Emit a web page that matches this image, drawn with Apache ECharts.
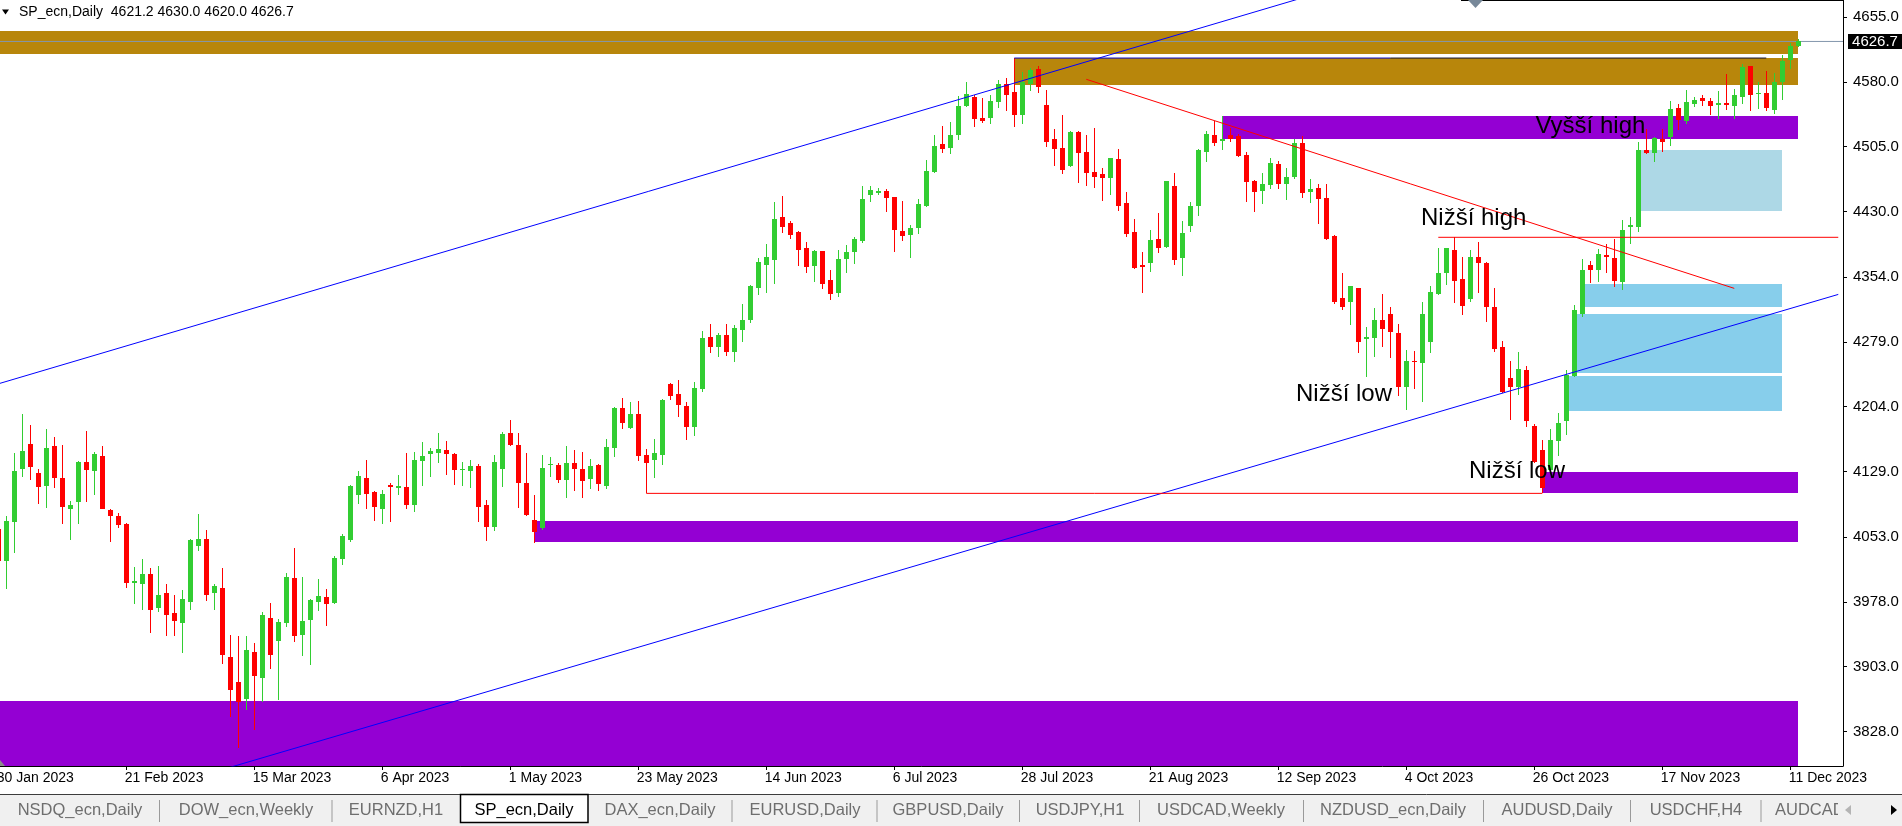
<!DOCTYPE html>
<html><head><meta charset="utf-8">
<script src="https://cdn.jsdelivr.net/npm/echarts@6/dist/echarts.min.js"></script>
<style>html,body{margin:0;padding:0;background:#fff;overflow:hidden}#c{width:1902px;height:826px}</style>
</head><body><div id="c"></div>
<script>
// ---------------- DATA ----------------
const firstDay = '2023-01-30';
const closedDays = ['2023-04-07'];
// daily candles [open, high, low, close], one per trading day from 30 Jan 2023
const ohlc = [
[4062.3,4070.0,4015.0,4025.3],[4025.3,4077.4,3992.8,4071.6],[4070.8,4150.3,4034.5,4129.5],[4131.8,4195.8,4122.5,4152.6],
[4160.7,4182.7,4119.4,4134.1],[4127.1,4131.8,4091.2,4110.9],[4112.1,4178.1,4086.6,4156.1],[4158.4,4168.8,4109.8,4121.3],
[4121.3,4159.6,4068.1,4087.8],[4085.5,4094.7,4049.6,4090.1],[4093.6,4141.0,4068.1,4139.9],[4139.9,4175.8,4093.6,4130.6],
[4129.5,4151.4,4101.7,4149.1],[4146.8,4158.4,4085.5,4085.5],[4084.3,4085.5,4047.3,4077.4],[4077.4,4080.8,4063.5,4066.9],
[4068.1,4069.3,3994.0,3999.8],[3999.8,4018.3,3975.5,4002.1],[3998.9,4027.6,3968.5,4010.2],[4010.2,4017.2,3941.9,3968.5],
[3970.8,4019.5,3966.2,3985.9],[3988.2,3998.6,3938.4,3962.7],[3965.0,3985.9,3938.4,3955.8],[3953.5,3991.7,3918.7,3981.3],
[3977.8,4050.5,3968.5,4049.6],[4042.6,4079.7,4036.8,4050.7],[4050.7,4061.1,3979.0,3985.9],[3988.2,3998.9,3968.5,3996.3],
[3994.0,4017.2,3906.0,3916.4],[3914.1,3939.6,3844.7,3875.9],[3885.2,3938.4,3808.8,3862.0],[3865.5,3938.4,3852.8,3922.2],
[3919.9,3930.3,3829.6,3892.1],[3889.8,3966.2,3862.0,3962.7],[3959.3,3976.6,3900.2,3916.4],[3932.6,3958.1,3864.3,3954.6],
[3953.5,4011.4,3948.8,4006.7],[4005.6,4040.3,3931.5,3938.4],[3939.6,4006.7,3915.3,3955.8],[3957.0,3981.3,3904.9,3980.1],
[3977.8,4004.4,3967.4,3984.7],[3983.6,3992.8,3950.0,3975.5],[3976.6,4031.0,3975.5,4028.7],[4027.6,4056.5,4020.6,4054.2],
[4049.6,4113.2,4047.3,4112.5],[4101.7,4129.4,4091.2,4123.7],[4121.3,4142.2,4085.5,4102.8],[4105.1,4106.3,4071.6,4087.8],
[4085.5,4107.4,4068.1,4102.8],[4113.2,4115.5,4070.4,4110.9],[4110.0,4124.8,4101.7,4112.1],[4110.9,4150.3,4085.5,4090.1],
[4090.1,4151.4,4082.0,4142.2],[4141.0,4163.0,4112.1,4146.8],[4149.1,4156.1,4122.5,4152.6],[4150.3,4173.4,4138.7,4154.9],
[4153.7,4164.2,4124.8,4149.1],[4149.1,4150.3,4113.2,4130.6],[4130.6,4139.9,4112.1,4131.8],[4129.4,4142.2,4109.8,4135.2],
[4135.2,4137.5,4070.4,4087.8],[4090.1,4095.9,4048.4,4064.6],[4064.6,4148.0,4060.0,4139.9],[4131.8,4174.6,4110.9,4172.3],
[4173.4,4188.5,4159.0,4159.5],[4159.5,4173.4,4086.6,4115.5],[4115.5,4150.3,4077.4,4078.5],[4072.7,4101.7,4046.1,4058.8],
[4063.5,4148.0,4061.1,4132.9],[4136.4,4145.6,4122.5,4137.5],[4136.4,4138.7,4115.5,4119.0],[4119.0,4158.4,4098.2,4138.7],
[4138.7,4153.7,4106.3,4131.8],[4131.8,4151.4,4098.2,4117.9],[4120.2,4143.3,4108.6,4135.2],[4136.4,4137.5,4106.3,4114.4],
[4112.1,4166.5,4108.6,4157.2],[4156.1,4203.5,4145.6,4202.4],[4202.3,4213.9,4178.0,4185.0],[4179.2,4209.3,4178.0,4195.4],
[4195.4,4210.4,4141.0,4146.8],[4147.9,4154.9,4103.6,4138.7],[4142.1,4166.4,4121.3,4150.2],[4147.9,4212.8,4136.3,4211.6],
[4230.1,4231.3,4211.6,4216.2],[4218.5,4234.7,4191.9,4205.8],[4204.6,4209.3,4165.3,4180.3],[4180.3,4232.4,4169.9,4225.5],
[4224.3,4291.5,4220.8,4283.4],[4284.5,4299.6,4266.0,4272.9],[4272.9,4289.2,4261.4,4286.8],[4286.8,4299.6,4262.5,4267.2],
[4267.2,4298.4,4255.6,4294.9],[4292.6,4322.7,4278.7,4304.2],[4304.2,4344.7,4300.7,4343.6],[4341.2,4376.0,4333.1,4371.3],
[4367.9,4392.2,4335.5,4377.1],[4373.7,4440.8,4345.9,4421.1],[4423.4,4447.8,4404.9,4411.9],[4416.5,4418.8,4398.0,4402.6],
[4406.1,4407.2,4366.7,4385.2],[4387.5,4394.5,4358.6,4365.6],[4366.7,4385.2,4348.2,4384.1],[4384.1,4384.1,4340.1,4345.9],
[4350.5,4362.1,4327.4,4334.3],[4335.5,4385.2,4330.8,4374.8],[4374.8,4391.0,4358.6,4382.9],[4382.9,4400.3,4369.0,4398.0],
[4395.7,4459.3,4393.3,4444.3],[4448.9,4459.3,4440.8,4454.7],[4451.2,4457.0,4448.9,4453.5],[4453.5,4455.8,4429.2,4445.4],
[4446.6,4446.6,4382.9,4408.4],[4407.2,4442.0,4395.7,4401.4],[4402.6,4414.2,4376.0,4410.7],[4410.7,4444.3,4403.8,4438.5],
[4436.2,4489.5,4435.0,4476.7],[4475.5,4518.4,4474.4,4505.6],[4507.9,4528.8,4497.5,4502.2],[4503.3,4533.4,4496.4,4518.4],
[4518.4,4563.5,4512.6,4551.9],[4551.9,4579.7,4550.5,4565.8],[4562.4,4564.7,4527.6,4536.9],[4538.1,4561.2,4532.3,4534.6],
[4538.1,4564.7,4531.1,4557.7],[4556.6,4582.0,4549.6,4577.4],[4577.4,4584.4,4546.2,4564.7],[4568.2,4607.5,4527.6,4541.5],
[4541.5,4591.3,4531.1,4579.7],[4577.4,4596.0,4569.3,4593.6],[4594.8,4598.3,4567.0,4573.9],[4553.1,4570.5,4504.5,4510.3],
[4513.7,4525.3,4482.5,4502.2],[4503.3,4541.5,4473.2,4477.9],[4482.5,4523.0,4481.5,4521.8],[4521.8,4523.0,4462.8,4497.5],
[4498.7,4518.4,4459.3,4474.4],[4475.5,4526.5,4457.0,4469.7],[4473.2,4480.2,4442.0,4468.6],[4468.6,4491.7,4448.9,4491.7],
[4490.6,4502.2,4430.4,4436.2],[4439.7,4452.4,4400.3,4403.8],[4406.1,4421.1,4363.2,4364.4],[4367.9,4382.9,4335.5,4365.6],
[4370.2,4408.4,4359.8,4396.8],[4398.0,4428.1,4381.8,4387.5],[4388.7,4465.1,4387.5,4465.1],[4459.3,4474.4,4367.9,4373.7],
[4376.0,4418.8,4355.1,4404.9],[4413.0,4440.8,4406.1,4436.2],[4436.2,4502.2,4424.6,4501.0],[4498.7,4523.0,4487.1,4519.5],
[4518.4,4534.6,4505.6,4509.1],[4511.4,4540.4,4501.0,4513.7],[4518.4,4526.5,4510.3,4513.7],[4517.2,4519.5,4492.9,4494.1],
[4495.2,4498.7,4440.8,4464.0],[4465.1,4466.3,4429.2,4452.4],[4453.5,4474.4,4438.5,4461.6],[4460.5,4491.7,4455.8,4485.9],
[4484.8,4488.3,4455.8,4461.6],[4461.6,4480.2,4443.1,4469.7],[4469.7,4513.7,4467.4,4509.1],[4509.1,4517.2,4445.4,4451.2],
[4452.4,4467.4,4439.6,4455.8],[4457.0,4461.6,4415.3,4444.3],[4445.4,4461.6,4396.8,4398.0],[4401.4,4402.6,4322.7,4325.0],
[4329.6,4358.6,4315.8,4319.2],[4325.0,4343.6,4298.4,4343.6],[4341.2,4341.2,4266.0,4278.7],[4282.2,4296.1,4238.2,4284.5],
[4283.3,4318.1,4261.4,4304.2],[4304.2,4334.3,4272.9,4293.8],[4311.1,4319.2,4260.2,4290.3],[4289.1,4299.6,4216.2,4226.6],
[4226.6,4269.5,4200.0,4256.7],[4256.7,4268.3,4224.3,4255.6],[4254.4,4325.0,4209.3,4311.1],[4278.7,4343.6,4266.0,4336.6],
[4334.3,4387.5,4333.1,4358.6],[4358.6,4387.5,4344.7,4387.5],[4385.2,4399.9,4323.9,4349.3],[4351.7,4377.1,4310.0,4320.4],
[4328.5,4385.2,4325.0,4377.1],[4377.1,4394.5,4335.5,4370.2],[4370.2,4371.3,4301.9,4319.2],[4319.2,4341.2,4267.1,4270.6],
[4272.9,4279.9,4219.7,4220.8],[4237.0,4256.7,4188.4,4226.6],[4226.6,4267.1,4217.4,4247.5],[4246.7,4251.4,4180.8,4187.7],
[4181.5,4183.8,4138.3,4139.4],[4153.7,4165.3,4103.6,4109.3],[4130.6,4178.0,4128.6,4165.3],[4164.5,4196.2,4146.8,4185.3],
[4187.7,4246.3,4171.1,4240.5],[4239.4,4321.6,4238.2,4315.8],[4311.2,4374.9,4307.7,4362.1],[4367.9,4372.5,4347.1,4362.1],
[4362.1,4386.4,4348.2,4380.6],[4379.5,4392.2,4358.7,4377.2],[4376.0,4398.0,4342.4,4349.4],[4348.2,4420.0,4339.0,4408.4],
[4411.9,4423.5,4392.2,4414.2],[4411.9,4510.3,4406.1,4501.1],[4501.1,4525.4,4496.4,4497.6],[4497.6,4516.1,4487.2,4514.9],
[4513.8,4525.4,4498.7,4510.3],[4516.1,4557.8,4505.7,4548.5],[4549.7,4554.3,4524.2,4535.8],[4534.6,4570.5,4531.2,4556.6],
[4554.3,4562.4,4550.8,4558.9],[4561.2,4564.7,4552.0,4557.8],[4557.8,4561.2,4541.6,4552.0],[4553.1,4569.4,4536.9,4555.5],
[4555.5,4589.0,4547.4,4553.1],[4552.0,4571.7,4536.9,4564.7],[4562.4,4600.6,4554.3,4597.1],[4598.3,4598.3,4546.2,4564.7],
[4566.2,4579.8,4548.5,4567.0],[4567.0,4592.5,4546.2,4549.7],[4547.4,4590.2,4542.7,4579.8],[4579.8,4611.0,4558.9,4604.1],
[4605.2,4624.9,4594.8,4621.4],[4621.2,4630.0,4620.0,4626.7]
];
const lastPrice = 4626.7;
const titleText = 'SP_ecn,Daily  4621.2 4630.0 4620.0 4626.7';
const xTickDates = ['2023-01-30','2023-02-21','2023-03-15','2023-04-06','2023-05-01','2023-05-23','2023-06-14','2023-07-06','2023-07-28','2023-08-21','2023-09-12','2023-10-04','2023-10-26','2023-11-17','2023-12-11'];
const xTickLabels = ['30 Jan 2023','21 Feb 2023','15 Mar 2023','6 Apr 2023','1 May 2023','23 May 2023','14 Jun 2023','6 Jul 2023','28 Jul 2023','21 Aug 2023','12 Sep 2023','4 Oct 2023','26 Oct 2023','17 Nov 2023','11 Dec 2023'];
const yTickValues = [4655,4580,4505,4430,4354,4279,4204,4129,4053,3978,3903,3828];
// zones: [startDate, endDate, low, high]
const goldZones = [['2023-01-30','2023-12-12',4612.6,4638.8],['2023-07-27','2023-12-12',4576.6,4607.5]];
const purpleZones = [['2023-09-01','2023-12-12',4514.1,4540.4],['2023-10-27','2023-12-12',4103.6,4128.3],['2023-05-04','2023-12-12',4047.6,4071.6],['2023-01-30','2023-12-12',3600.0,3863.6]];
const lightBlueZones = [['2023-11-14','2023-12-08',4430.8,4501.0]];
const skyBlueZones = [['2023-11-03','2023-12-08',4319.6,4345.9],['2023-11-02','2023-12-08',4243.2,4311.2],['2023-11-01','2023-12-08',4199.3,4239.4]];
// lines: [[date, price],[date, price]]
const blueLines = [[['2023-01-30',4230.4],['2023-12-19',4860.8]],[['2023-01-30',3707.6],['2023-12-19',4333.9]]];
const redLines = [[['2023-08-09',4582.9],['2023-11-30',4340.9]],[['2023-10-10',4400.0],['2023-12-19',4400.0]],[['2023-05-24',4103.6],['2023-10-27',4103.6]]];
const topEdgeBlue = [['2023-07-27',4607.5],['2023-10-02',4607.5]];
const topEdgeBlack = [['2023-10-02',4607.5],['2023-12-06',4607.5]];
const notes = ['Vyšší high','Nižší high','Nižší low','Nižší low'];
const tabNames = ['NSDQ_ecn,Daily','DOW_ecn,Weekly','EURNZD,H1','SP_ecn,Daily','DAX_ecn,Daily','EURUSD,Daily','GBPUSD,Daily','USDJPY,H1','USDCAD,Weekly','NZDUSD_ecn,Daily','AUDUSD,Daily','USDCHF,H4','AUDCAD,Weekly'];
const activeTab = 'SP_ecn,Daily';

// ---------------- HELPERS ----------------
function buildDates(n){
  const out=[]; const d=new Date(firstDay+'T00:00:00Z');
  while(out.length<n){
    const wd=d.getUTCDay(); const s=d.toISOString().slice(0,10);
    if(wd!==0&&wd!==6&&closedDays.indexOf(s)<0) out.push(s);
    d.setUTCDate(d.getUTCDate()+1);
  }
  return out;
}
const dates = buildDates(ohlc.length+12);
const ix = s => dates.indexOf(s);

const FONT = '"Liberation Sans", Arial, sans-serif';
const chart = echarts.init(document.getElementById('c'), null, {renderer:'canvas'});
const Y_MIN = 3788.0, Y_MAX = 4674.7, X_MIN = 0, X_MAX = 230.59;

function zoneSeries(zones, color, z){
  return {
    type:'custom', z:z, silent:true, animation:false,
    data: zones.map(zn => [ix(zn[0]), ix(zn[1]), zn[2], zn[3]]),
    encode:{x:[0,1], y:[2,3]},
    renderItem:function(params, api){
      const p1 = api.coord([api.value(0), api.value(3)]);
      const p2 = api.coord([api.value(1), api.value(2)]);
      const cs = params.coordSys;
      const x1 = Math.round(p1[0]), x2 = Math.round(p2[0]);
      const y1 = Math.round(p1[1]), y2 = Math.round(p2[1]);
      const shape = echarts.graphic.clipRectByRect({x:x1, y:y1, width:x2-x1, height:y2-y1},{x:cs.x, y:cs.y, width:cs.width, height:cs.height});
      return shape ? {type:'rect', shape:shape, style:{fill:color}} : null;
    }
  };
}
function lineSeries(pts, color, z){
  return {type:'line', z:z, silent:true, animation:false, symbol:'none', clip:true,
    data: pts.map(p => [ix(p[0]), p[1]]),
    lineStyle:{color:color, width:1}};
}

const series = [];
series.push(zoneSeries(goldZones, '#B8860B', 1));
series.push(zoneSeries(purpleZones, '#9400D3', 1));
series.push(zoneSeries(lightBlueZones, '#ADD8E6', 1));
series.push(zoneSeries(skyBlueZones, '#87CEEB', 1));
series.push({type:'line', z:2, silent:true, animation:false, symbol:'none', data:[[X_MIN,lastPrice],[X_MAX,lastPrice]], lineStyle:{color:'#8497ad', width:1}});
series.push({
  type:'custom', z:3, silent:true, animation:false, clip:true,
  data: ohlc.map((r,i) => [i, r[0], r[1], r[2], r[3]]),
  encode:{x:0, y:[1,2,3,4]},
  renderItem:function(params, api){
    const i=api.value(0), o=api.value(1), h=api.value(2), l=api.value(3), c=api.value(4);
    const pO=api.coord([i,o]), pC=api.coord([i,c]), pH=api.coord([i,h]), pL=api.coord([i,l]);
    const left = Math.round(pO[0]-2.5);
    const color = c>=o ? '#32CD32' : '#FF0000';
    const top = Math.round(Math.min(pO[1],pC[1])), bot = Math.round(Math.max(pO[1],pC[1]));
    const wt = Math.round(pH[1]), wb = Math.round(pL[1]);
    return {type:'group', children:[
      {type:'rect', shape:{x:left+2, y:wt, width:1, height:Math.max(1,wb-wt)}, style:{fill:color}},
      {type:'rect', shape:{x:left, y:top, width:5, height:Math.max(1,bot-top)}, style:{fill:color}}
    ]};
  }
});
blueLines.forEach(l => series.push(lineSeries(l, '#0000FF', 4)));
redLines.forEach(l => series.push(lineSeries(l, '#FF0000', 4)));
series.push(lineSeries(topEdgeBlue, '#0000C8', 4));
series.push(lineSeries(topEdgeBlack, '#101030', 4));

// ---------------- GRAPHICS (title, notes, tabs) ----------------
const g = [];
g.push({type:'line', shape:{x1:1461, y1:0.5, x2:1843, y2:0.5}, style:{stroke:'#000', lineWidth:1}, z:100});
g.push({type:'polygon', shape:{points:[[1468,0],[1483,0],[1475.5,8]]}, style:{fill:'#778899'}, z:100});
g.push({type:'polygon', shape:{points:[[0,760],[0,766],[5,766]]}, style:{fill:'#8c8c8c'}, z:100});
g.push({type:'polygon', shape:{points:[[2,9.5],[9,9.5],[5.5,14.5]]}, style:{fill:'#000'}, z:100});
g.push({type:'text', x:19, y:12.5, style:{text:titleText, font:'14px '+FONT, fill:'#000', verticalAlign:'middle', textVerticalAlign:'middle'}, z:100});
const notePos = [[1535.5,126.5],[1421,218.2],[1296,394.8],[1469,471.5]];
notes.forEach((t,k) => g.push({type:'text', x:notePos[k][0], y:notePos[k][1], style:{text:t, font:'24px '+FONT, fill:'#000', verticalAlign:'middle', textVerticalAlign:'middle'}, z:100}));
// last price label
g.push({type:'rect', shape:{x:1848, y:34, width:54, height:15}, style:{fill:'#000'}, z:100});
g.push({type:'text', x:1875, y:41.5, style:{text:lastPrice.toFixed(1), font:'15px '+FONT, fill:'#fff', align:'center', textAlign:'center', verticalAlign:'middle', textVerticalAlign:'middle'}, z:101});
// tab bar
g.push({type:'rect', shape:{x:0, y:794, width:1902, height:32}, style:{fill:'#f0f0f0'}, z:100});
g.push({type:'line', shape:{x1:0, y1:794.5, x2:1902, y2:794.5}, style:{stroke:'#3c3c3c', lineWidth:1}, z:101});
g.push({type:'rect', shape:{x:460.5, y:794.5, width:127.5, height:28}, style:{fill:'#fff', stroke:'#000', lineWidth:1.5}, z:102});
const tabCenters = [80,246,396,524,660,805,948,1080,1221,1393,1557,1696,null];
const seps = [159.5,332,732,877,1019.5,1139.5,1303.5,1483.5,1630.5,1761];
seps.forEach(x => g.push({type:'line', shape:{x1:x, y1:800, x2:x, y2:822}, style:{stroke:'#9a9a9a', lineWidth:1}, z:101}));
tabNames.forEach((t,k) => {
  const act = t===activeTab;
  const c = tabCenters[k];
  g.push({type:'text', x: c===null ? 1775 : c, y:810.5, style:{text:t, font:'16.5px '+FONT, fill: act ? '#000' : '#6e6e6e', align: c===null?'left':'center', textAlign: c===null?'left':'center', verticalAlign:'middle', textVerticalAlign:'middle'}, z:103});
});
g.push({type:'rect', shape:{x:1838, y:796, width:64, height:30}, style:{fill:'#f0f0f0'}, z:104});
g.push({type:'polygon', shape:{points:[[1851,805],[1851,815],[1845,810]]}, style:{fill:'#b4b4b4'}, z:105});
g.push({type:'polygon', shape:{points:[[1891,805],[1891,815],[1897,810]]}, style:{fill:'#000'}, z:105});

const tickIdx = xTickDates.map(ix);
const option = {
  backgroundColor:'#ffffff',
  animation:false,
  grid:{left:-1.7, right:59, top:0, bottom:60, containLabel:false, outerBoundsMode:'none', show:false},
  xAxis:{
    type:'value', min:X_MIN, max:X_MAX,
    axisLine:{show:true, onZero:false, lineStyle:{color:'#000', width:1}},
    splitLine:{show:false},
    axisTick:{show:true, length:4, lineStyle:{color:'#000'}, customValues: tickIdx},
    axisLabel:{show:false}
  },
  yAxis:{
    type:'value', position:'right', min:Y_MIN, max:Y_MAX,
    axisLine:{show:true, onZero:false, lineStyle:{color:'#000', width:1}},
    splitLine:{show:false},
    axisTick:{show:true, length:4, lineStyle:{color:'#000'}, customValues: yTickValues},
    axisLabel:{show:true, customValues: yTickValues, margin:10, color:'#000', fontFamily:FONT, fontSize:15, align:'left',
      formatter:function(v){ return Number(v).toFixed(1); }}
  },
  series: series,
  graphic: g
};
chart.setOption(option);
// x-axis date labels, placed at the pixel of each tick from the axis scale (MT4 style: text starts at the tick)
const xl = tickIdx.map((v,k) => {
  const px = chart.convertToPixel({gridIndex:0}, [v, Y_MIN]);
  return {type:'text', x: px[0]-1.5, y: px[1]+12.5, style:{text:xTickLabels[k], font:'14px '+FONT, fill:'#000', verticalAlign:'middle', textVerticalAlign:'middle'}, z:100};
});
chart.setOption({graphic: g.concat(xl)});
</script>
</body></html>
